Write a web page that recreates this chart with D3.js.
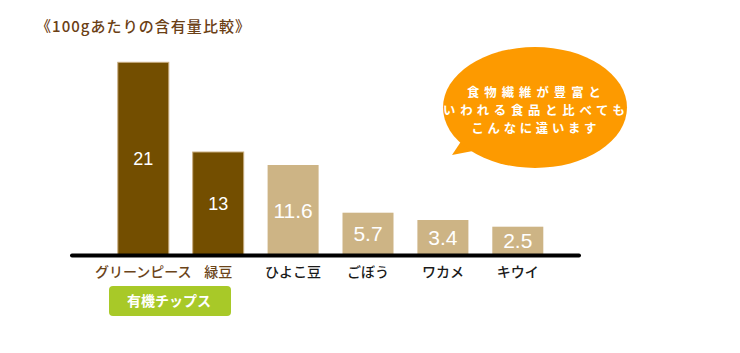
<!DOCTYPE html>
<html>
<head>
<meta charset="utf-8">
<script src="https://cdn.jsdelivr.net/npm/d3@7"></script>
<style>
  html, body { margin: 0; padding: 0; background: #fff; }
  svg { display: block; }
</style>
</head>
<body>
<div id="chart"></div>
<script>
// data
const categories = ['グリーンピース', '緑豆', 'ひよこ豆', 'ごぼう', 'ワカメ', 'キウイ'];
const values = [21, 13, 11.6, 5.7, 3.4, 2.5];
const valueLabels = ['21', '13', '11.6', '5.7', '3.4', '2.5'];
const highlighted = [true, true, false, false, false, false];
const titleText = '《100gあたりの含有量比較》';
const badgeText = '有機チップス';
const bubbleLines = ['食物繊維が豊富と', 'いわれる食品と比べても', 'こんなに違います'];

const width = 740, height = 353;
const baseY = 255;

const svg = d3.select('#chart').append('svg')
    .attr('width', width)
    .attr('height', height);

const jp = '"Noto Sans CJK JP", "Noto Sans", sans-serif';

// title
svg.append('text')
    .attr('x', 36).attr('y', 32)
    .attr('font-family', jp)
    .attr('font-size', 15)
    .attr('font-weight', 500)
    .attr('fill', '#6b4015')
    .attr('textLength', 214)
    .attr('lengthAdjust', 'spacing')
    .text(titleText);

// x scale
const x = d3.scaleBand().domain(categories).range([93.9, 567.2]).padding(0.319);

// the picture's bars are not proportional, so the scale is piecewise
const y = d3.scaleLinear()
    .domain([0, 2.5, 3.4, 5.7, 11.6, 13, 21])
    .range([baseY, 226.7, 220, 212.7, 165, 152, 62.3]);

const bars = svg.append('g')
    .selectAll('g')
    .data(categories.map((c, i) => ({ name: c, value: values[i], label: valueLabels[i], hi: highlighted[i] })))
    .enter()
    .append('g');

bars.append('rect')
    .attr('x', d => x(d.name))
    .attr('y', d => y(d.value))
    .attr('width', x.bandwidth())
    .attr('height', d => baseY - y(d.value))
    .attr('fill', d => d.hi ? '#734e00' : '#cdb485')
    .attr('stroke', d => d.hi ? '#c9ad80' : 'none')
    .attr('stroke-width', 1);

bars.append('text')
    .attr('x', d => x(d.name) + x.bandwidth() / 2)
    .attr('y', d => (y(d.value) + baseY) / 2 + 2)
    .attr('text-anchor', 'middle')
    .attr('dominant-baseline', 'middle')
    .attr('font-family', '"Liberation Sans", Arial, sans-serif')
    .attr('font-size', d => d.hi ? 18 : 21)
    .attr('fill', '#fff')
    .text(d => d.label);

// baseline
svg.append('line')
    .attr('x1', 72).attr('x2', 579)
    .attr('y1', baseY + 0.5).attr('y2', baseY + 0.5)
    .attr('stroke', '#000')
    .attr('stroke-width', 4)
    .attr('stroke-linecap', 'round');

// category labels
bars.append('text')
    .attr('x', d => x(d.name) + x.bandwidth() / 2)
    .attr('y', 277)
    .attr('text-anchor', 'middle')
    .attr('font-family', jp)
    .attr('font-size', 14)
    .attr('font-weight', 500)
    .attr('fill', d => d.hi ? '#6b4419' : '#1a1a1a')
    .text(d => d.name);

// badge under the organic chips
const badge = svg.append('g');
badge.append('rect')
    .attr('x', 109).attr('y', 286)
    .attr('width', 122).attr('height', 30)
    .attr('rx', 4)
    .attr('fill', '#a8c928');
badge.append('text')
    .attr('x', 169).attr('y', 306)
    .attr('text-anchor', 'middle')
    .attr('font-family', jp)
    .attr('font-size', 14)
    .attr('font-weight', 700)
    .attr('fill', '#fff')
    .text(badgeText);

// speech bubble
const bubble = svg.append('g');
bubble.append('path')
    .attr('d', 'M462,140 L452,155 L478,150 Z')
    .attr('fill', '#fd9a00');
bubble.append('ellipse')
    .attr('cx', 535).attr('cy', 107.5)
    .attr('rx', 92).attr('ry', 60.5)
    .attr('fill', '#fd9a00');

const lineLens = [134, 182, 125];
bubble.selectAll('text.b')
    .data(bubbleLines)
    .enter()
    .append('text')
    .attr('class', 'b')
    .attr('x', 534)
    .attr('y', (d, i) => 97 + i * 18)
    .attr('text-anchor', 'middle')
    .attr('font-family', jp)
    .attr('font-size', 12.4)
    .attr('font-weight', 700)
    .attr('fill', '#fff')
    .attr('textLength', (d, i) => lineLens[i])
    .attr('lengthAdjust', 'spacing')
    .text(d => d);
</script>
</body>
</html>
